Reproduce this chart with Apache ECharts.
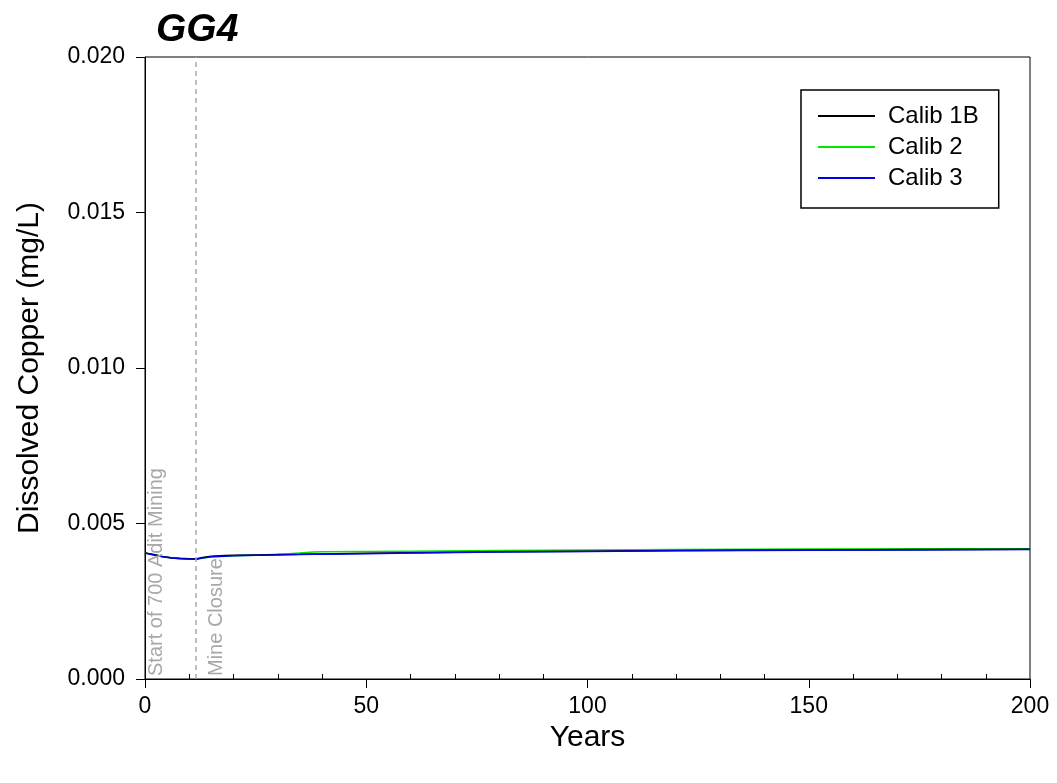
<!DOCTYPE html>
<html>
<head>
<meta charset="utf-8">
<script src="https://cdn.jsdelivr.net/npm/echarts@6/dist/echarts.min.js"></script>
<style>
html,body{margin:0;padding:0;background:#fff;}
#chart{width:1057px;height:783px;}
</style>
</head>
<body>
<div id="chart"></div>
<script>
// ---- data ----
var years = [0, 2, 4, 6, 8, 10, 11.5, 13, 15, 18, 20, 25, 30, 35, 38, 40, 50, 60, 80, 100, 120, 150, 175, 200];
var calib1B = [0.00405, 0.00400, 0.00394, 0.00390, 0.00388, 0.00387, 0.00386, 0.00391, 0.00395, 0.00397, 0.00398, 0.00399, 0.00400, 0.00401, 0.00402, 0.00402, 0.00404, 0.00406, 0.00409, 0.00411, 0.00413, 0.00415, 0.00416, 0.00417];
var calib2  = [0.00405, 0.00399, 0.00393, 0.00389, 0.00387, 0.00386, 0.00385, 0.00389, 0.00393, 0.00395, 0.00396, 0.00398, 0.00400, 0.00405, 0.00408, 0.00409, 0.00410, 0.00411, 0.00413, 0.00415, 0.00416, 0.00418, 0.00419, 0.00419];
var calib3  = [0.00405, 0.00399, 0.00393, 0.00389, 0.00387, 0.00386, 0.00385, 0.00389, 0.00393, 0.00395, 0.00396, 0.00398, 0.00399, 0.00400, 0.00401, 0.00401, 0.00403, 0.00405, 0.00408, 0.00410, 0.00412, 0.00414, 0.00415, 0.00416];
var seriesNames = ['Calib 1B', 'Calib 2', 'Calib 3'];
var mineClosureYear = 11.5;
var startMiningYear = 0;
var xTicks = [0, 50, 100, 150, 200];
var yTicks = [0.000, 0.005, 0.010, 0.015, 0.020];

function pairs(xs, ys) { return xs.map(function (x, i) { return [x, ys[i]]; }); }

var FONT = 'Liberation Sans, Arial, sans-serif';
var chart = echarts.init(document.getElementById('chart'), null, {renderer: 'canvas'});

var option = {
  backgroundColor: '#fff',
  animation: false,
  textStyle: {fontFamily: FONT},
  title: {
    text: 'GG4', left: 151, top: 6,
    textStyle: {fontFamily: FONT, fontSize: 39, fontWeight: 'bold', fontStyle: 'italic', color: '#000'}
  },
  grid: {left: 145, right: 27, top: 57, bottom: 104, show: true, borderColor: '#000', borderWidth: 1, backgroundColor: 'transparent'},
  legend: {
    orient: 'vertical', left: 801, top: 90,
    data: seriesNames,
    icon: 'rect', itemWidth: 57, itemHeight: 2, itemGap: 7,
    padding: [14, 20, 18, 17],
    borderColor: '#000', borderWidth: 1.5, backgroundColor: '#fff',
    textStyle: {fontFamily: FONT, fontSize: 24, lineHeight: 24, color: '#000', padding: [0, 0, 0, 8]}
  },
  xAxis: [{
    type: 'value', min: xTicks[0], max: xTicks[xTicks.length - 1], interval: 50,
    name: 'Years', nameLocation: 'middle', nameGap: 44,
    nameTextStyle: {fontFamily: FONT, fontSize: 30, color: '#000'},
    axisLine: {show: true, onZero: false, lineStyle: {color: '#000', width: 1}},
    axisTick: {show: true, inside: false, length: 9, lineStyle: {color: '#000', width: 1}},
    axisLabel: {fontFamily: FONT, fontSize: 23, color: '#000', margin: 16},
    splitLine: {show: false}
  }, {
    type: 'value', min: xTicks[0], max: xTicks[xTicks.length - 1], interval: 50, position: 'bottom', offset: 0,
    axisLine: {show: false}, axisLabel: {show: false},
    axisTick: {show: false, inside: true},
    minorTick: {show: true, splitNumber: 5, length: 5, lineStyle: {color: '#000', width: 1}},
    splitLine: {show: false}, minorSplitLine: {show: false}
  }],
  yAxis: [{
    type: 'value', min: yTicks[0], max: yTicks[yTicks.length - 1], interval: 0.005,
    name: 'Dissolved Copper (mg/L)', nameLocation: 'middle', nameGap: 100,
    nameTextStyle: {fontFamily: FONT, fontSize: 30, color: '#000'},
    axisLine: {show: true, onZero: false, lineStyle: {color: '#000', width: 1}},
    axisTick: {show: true, inside: false, length: 9, lineStyle: {color: '#000', width: 1}},
    axisLabel: {fontFamily: FONT, fontSize: 23, color: '#000', margin: 20, formatter: function (v) { return v.toFixed(3); }},
    splitLine: {show: false}
  }],
  series: [
    {
      name: seriesNames[1], type: 'line', data: pairs(years, calib2), showSymbol: false, symbol: 'none',
      lineStyle: {color: '#00e800', width: 1.5}, itemStyle: {color: '#00e800'}, z: 2,
      markLine: {
        silent: true, symbol: 'none', animation: false,
        data: [
          {xAxis: mineClosureYear, lineStyle: {color: '#aaaaaa', type: [5, 4], width: 1.5},
           label: {show: true, formatter: 'Mine Closure', position: 'insideStartBottom', distance: [3, 11], color: '#a8a8a8', fontSize: 20, fontFamily: FONT}},
          {xAxis: startMiningYear, lineStyle: {color: 'rgba(0,0,0,0)', width: 1, type: 'solid'},
           label: {show: true, formatter: 'Start of 700 Adit Mining', position: 'insideStartBottom', distance: [3, 1], color: '#a8a8a8', fontSize: 20, fontFamily: FONT}}
        ]
      }
    },
    {
      name: seriesNames[0], type: 'line', data: pairs(years, calib1B), showSymbol: false, symbol: 'none',
      lineStyle: {color: '#000000', width: 1.5}, itemStyle: {color: '#000000'}, z: 3
    },
    {
      name: seriesNames[2], type: 'line', data: pairs(years, calib3), showSymbol: false, symbol: 'none',
      lineStyle: {color: '#0000ee', width: 1.5}, itemStyle: {color: '#0000ee'}, z: 4
    }
  ]
};
chart.setOption(option);
</script>
</body>
</html>
